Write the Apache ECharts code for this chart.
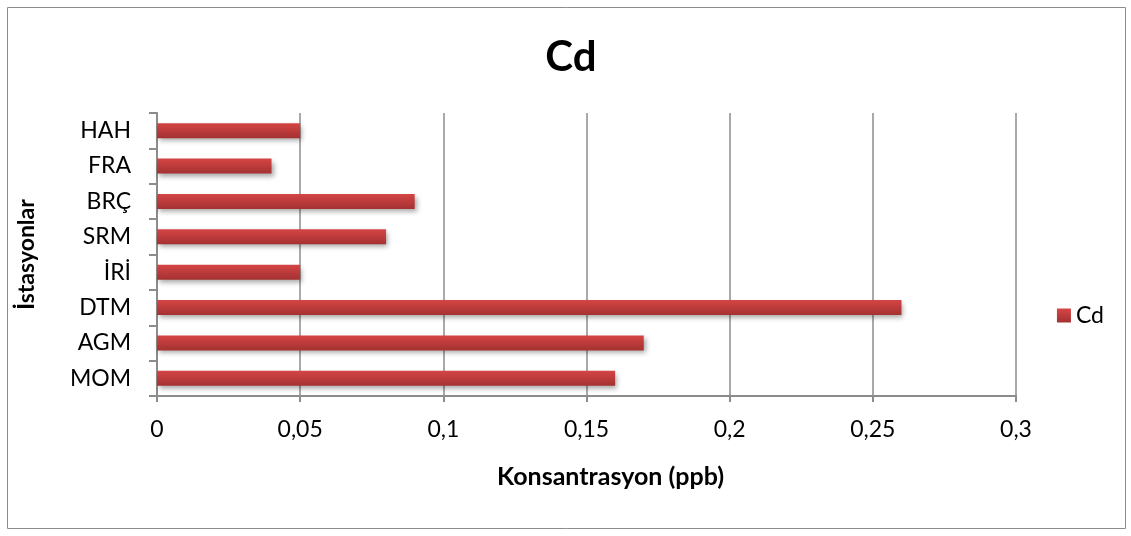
<!DOCTYPE html>
<html>
<head>
<meta charset="utf-8">
<script src="https://cdn.jsdelivr.net/npm/echarts@6/dist/echarts.min.js"></script>
<style>
  html, body { margin: 0; padding: 0; background: #fff; }
  #chart { width: 1131px; height: 536px; }
</style>
</head>
<body>
<div id="chart"></div>
<script>
// istasyonlar, alttan üste
const stations = ["MOM", "AGM", "DTM", "İRİ", "SRM", "BRÇ", "FRA", "HAH"];
const cdValues = [0.16, 0.17, 0.26, 0.05, 0.08, 0.09, 0.04, 0.05];

const chart = echarts.init(document.getElementById("chart"));
const font = "Lato, 'Open Sans', sans-serif";
const barColor = new echarts.graphic.LinearGradient(0, 0, 0, 1, [
  { offset: 0, color: "#d54545" },
  { offset: 1, color: "#a43131" }
]);

chart.setOption({
  backgroundColor: "#fff",
  animation: false,
  graphic: [
    {
      type: "rect",
      shape: { x: 7.5, y: 7.5, width: 1118, height: 521 },
      style: { fill: "none", stroke: "#8c8c8c", lineWidth: 1 }
    }
  ],
  title: {
    text: "Cd",
    left: 566,
    top: 31,
    textAlign: "center",
    textStyle: { fontFamily: font, fontSize: 42, fontWeight: "bold", color: "#000" }
  },
  legend: {
    right: 22,
    top: 299,
    itemWidth: 14,
    itemHeight: 14,
    itemGap: 6,
    icon: "rect",
    textStyle: { fontFamily: font, fontSize: 23, color: "#000" },
    data: ["Cd"]
  },
  grid: { left: 157, right: 115, top: 113, bottom: 140 },
  xAxis: {
    type: "value",
    min: 0,
    max: 0.3,
    interval: 0.05,
    name: "Konsantrasyon (ppb)",
    nameLocation: "middle",
    nameGap: 68,
    nameTextStyle: {
      fontFamily: font,
      fontSize: 25,
      fontWeight: "bold",
      color: "#000",
      padding: [0, 0, 0, 48]
    },
    axisLine: { show: true, lineStyle: { color: "#8c8c8c", width: 2 } },
    axisTick: { show: true, length: 6, lineStyle: { color: "#8c8c8c", width: 2 } },
    splitLine: { show: true, lineStyle: { color: "#8c8c8c", width: 1.5 } },
    axisLabel: {
      fontFamily: font,
      fontSize: 23,
      color: "#000",
      margin: 22,
      formatter: v => String(+v.toFixed(2)).replace(".", ",")
    }
  },
  yAxis: {
    type: "category",
    data: stations,
    name: "İstasyonlar",
    nameLocation: "middle",
    nameGap: 119,
    nameRotate: 90,
    nameTextStyle: { fontFamily: font, fontSize: 23, fontWeight: "bold", color: "#000" },
    axisLine: { show: true, lineStyle: { color: "#8c8c8c", width: 2 } },
    axisTick: { show: true, length: 8, lineStyle: { color: "#8c8c8c", width: 2 } },
    axisLabel: { fontFamily: font, fontSize: 23, color: "#000", margin: 26 },
    splitLine: { show: false }
  },
  series: [
    {
      name: "Cd",
      type: "bar",
      data: cdValues,
      barWidth: 15,
      itemStyle: {
        color: barColor,
        shadowColor: "rgba(0,0,0,0.35)",
        shadowBlur: 5,
        shadowOffsetX: 2,
        shadowOffsetY: 3
      }
    }
  ]
});
</script>
</body>
</html>
